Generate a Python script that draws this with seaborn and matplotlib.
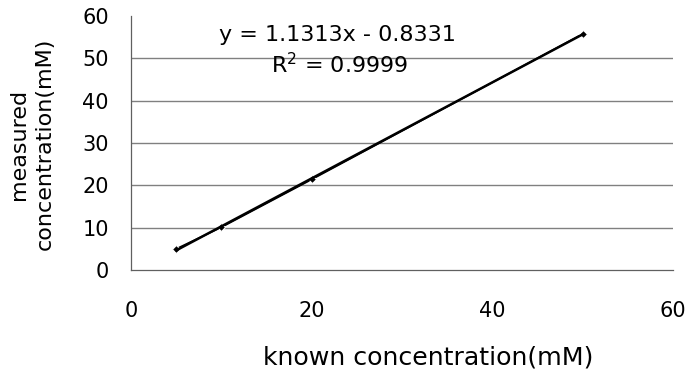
import numpy as np
import pandas as pd
import seaborn as sns
import matplotlib.pyplot as plt

# known vs measured concentration (mM)
known = [5, 10, 20, 50]
measured = [5.0, 10.1, 21.4, 55.8]
eq_text = "y = 1.1313x - 0.8331"
r2_text = "R$^2$ = 0.9999"

df = pd.DataFrame({"known": known, "measured": measured})

sns.set_style("white")
plt.rcParams["font.family"] = ["DejaVu Sans"]
plt.rcParams["text.color"] = "black"
plt.rcParams["xtick.color"] = "black"
plt.rcParams["ytick.color"] = "black"

fig = plt.figure(figsize=(6.88, 3.74), dpi=100)
ax = fig.add_axes([0.1904, 0.278, 0.788, 0.679])

for yv in [10, 20, 30, 40, 50]:
    ax.axhline(yv, color="#808080", lw=1, zorder=0)

sns.lineplot(data=df, x="known", y="measured", ax=ax, color="black",
             marker="D", markersize=4, lw=1.2)
sns.regplot(data=df, x="known", y="measured", ax=ax, ci=None, scatter=False,
            color="black", line_kws={"lw": 1.8})

ax.set_xlim(0, 60)
ax.set_ylim(0, 60)
ax.set_xticks([0, 20, 40, 60])
ax.set_yticks([0, 10, 20, 30, 40, 50, 60])
ax.tick_params(axis="x", direction="in", length=7, width=0.8, color="#606060",
               pad=22, labelsize=15)
ax.tick_params(axis="y", direction="in", length=5, width=0.8, color="#606060",
               pad=16, labelsize=15)
sns.despine(ax=ax)
for s in ["left", "bottom"]:
    ax.spines[s].set_color("#606060")
    ax.spines[s].set_linewidth(0.9)

ax.set_xlabel("")
ax.set_ylabel("")
fig.text(428 / 688, 1 - 357 / 374, "known concentration(mM)", fontsize=18.2,
         ha="center", va="center")
fig.text(32 / 688, 1 - 144 / 374, "measured\nconcentration(mM)", fontsize=16,
         ha="center", va="center", rotation=90, linespacing=1.35)

fig.text(337 / 688, 1 - 35 / 374, eq_text, ha="center", va="center",
         fontsize=16)
fig.text(340 / 688, 1 - 65 / 374, r2_text, ha="center", va="center",
         fontsize=16)

fig.savefig("out.png", dpi=100)
